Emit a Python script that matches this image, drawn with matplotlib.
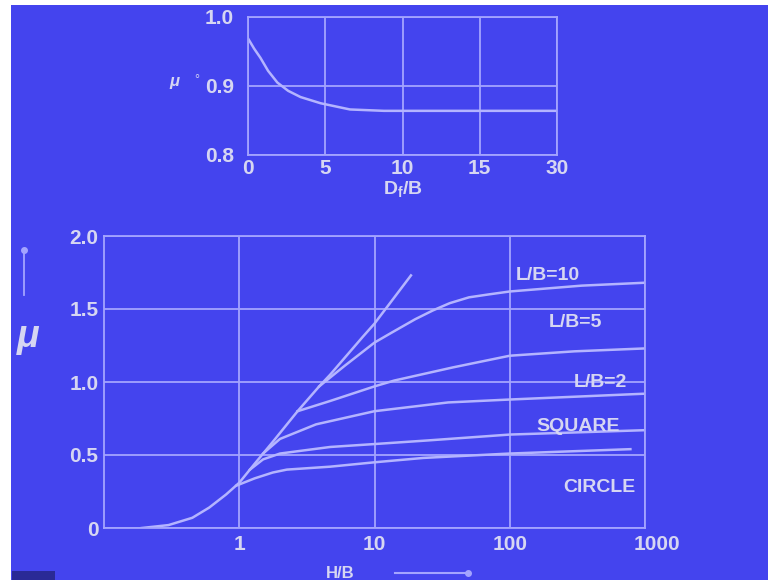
import numpy as np
import matplotlib.pyplot as plt
import matplotlib.transforms as mtransforms
from matplotlib.patches import Rectangle
from matplotlib.lines import Line2D

plt.rcParams['font.family'] = ['Liberation Sans', 'DejaVu Sans']

# ==== 颜色 ====
BG = '#4444EE'
GRID = '#A4A4FF'
CURVE = '#B4B4FF'
TXT = '#D6D6F2'

# ==== 上图数据: mu vs Df/B ====
df_b = [0, 0.4, 0.8, 1.3, 1.9, 2.6, 3.4, 4.7, 6.6, 8.8, 10, 15, 30]
mu_df = [0.969, 0.954, 0.941, 0.922, 0.905, 0.893, 0.884, 0.875, 0.866, 0.864, 0.864, 0.864, 0.864]
top_xticks = [0, 5, 10, 15, 30]
top_yticks = [0.8, 0.9, 1.0]

# ==== 下图数据: mu vs H/B ====
env_hb = [0.19, 0.3, 0.45, 0.6, 0.8, 1.0, 1.3, 1.77, 2.7, 3.9, 4.7, 8.2, 10, 18.6]
env_mu = [0.0, 0.02, 0.07, 0.14, 0.23, 0.31, 0.44, 0.59, 0.80, 0.97, 1.05, 1.31, 1.40, 1.73]

lb10_hb = [3.9, 6, 10, 13.5, 20, 27, 36, 50, 70, 100, 340, 1000]
lb10_mu = [0.97, 1.11, 1.27, 1.34, 1.43, 1.49, 1.54, 1.58, 1.60, 1.62, 1.66, 1.68]

lb5_hb = [2.7, 4.7, 10, 14, 38, 100, 300, 1000]
lb5_mu = [0.80, 0.87, 0.97, 1.01, 1.10, 1.18, 1.21, 1.23]

lb2_hb = [1.5, 2, 3.7, 10, 35, 100, 1000]
lb2_mu = [0.51, 0.61, 0.71, 0.80, 0.86, 0.88, 0.92]

sq_hb = [1.2, 1.5, 2, 4.7, 10, 25, 100, 1000]
sq_mu = [0.40, 0.47, 0.51, 0.555, 0.575, 0.60, 0.64, 0.67]

circ_hb = [0.95, 1.3, 1.77, 2.25, 4.7, 10, 23, 100, 780]
circ_mu = [0.29, 0.34, 0.38, 0.40, 0.42, 0.45, 0.48, 0.51, 0.54]

curve_labels = ['L/B=10', 'L/B=5', 'L/B=2', 'SQUARE', 'CIRCLE']
bot_xticks = [1, 10, 100, 1000]
bot_yticks = [0, 0.5, 1.0, 1.5, 2.0]

# ==== 画布 ====
fig = plt.figure(figsize=(7.68, 5.8), dpi=100, facecolor='white')
fig.add_artist(Rectangle((11 / 768, 0), 1, 1 - 5 / 580, transform=fig.transFigure,
                         facecolor=BG, edgecolor='none', zorder=-10))
fig.add_artist(Rectangle((12 / 768, 0), 43 / 768, 9 / 580, transform=fig.transFigure,
                         facecolor='#2A2A96', edgecolor='none', zorder=-5))


def style_axes(ax):
    ax.set_facecolor('none')
    for sp in ax.spines.values():
        sp.set_color(GRID)
        sp.set_linewidth(1.3)
    ax.tick_params(length=0, colors=TXT, labelsize=15)
    for lab in ax.get_xticklabels() + ax.get_yticklabels():
        lab.set_fontweight('bold')
    ax.grid(True, color=GRID, linewidth=1.3)
    ax.set_axisbelow(True)


# ==== 1. 上图 ====
def fwd(x):
    x = np.asarray(x, dtype=float)
    return np.where(x <= 15, x, 15 + (x - 15) / 3)


def inv(y):
    y = np.asarray(y, dtype=float)
    return np.where(y <= 15, y, 15 + (y - 15) * 3)


ax1 = fig.add_axes([248 / 768, 1 - 155 / 580, 309 / 768, 138 / 580])
ax1.set_xscale('function', functions=(fwd, inv))
ax1.plot(df_b, mu_df, color=CURVE, linewidth=1.8)
ax1.set_xlim(0, 30)
ax1.set_ylim(0.8, 1.0)
ax1.set_xticks(top_xticks)
ax1.set_xticklabels([str(v) for v in top_xticks])
ax1.set_yticks(top_yticks)
ax1.set_yticklabels([f'{v:.1f}' for v in top_yticks])
ax1.minorticks_off()
style_axes(ax1)
ax1.tick_params(axis='x', pad=3)
ax1.tick_params(axis='y', pad=10)
ax1.set_xlabel(r'D$_{\mathregular{f}}$/B', color=TXT, fontsize=14, fontweight='bold', labelpad=1)
fig.text(174 / 768, 1 - 82 / 580, 'μ', color=TXT, fontsize=12, fontstyle='italic',
         fontweight='bold', ha='center', va='center')
fig.text(197 / 768, 1 - 80 / 580, '°', color=TXT, fontsize=9, ha='center', va='center')

# ==== 2. 下图 ====
ax2 = fig.add_axes([104 / 768, 1 - 528 / 580, 541 / 768, 292 / 580])
ax2.set_xscale('log')
ax2.plot(env_hb, env_mu, color=CURVE, linewidth=1.8)
for xs, ys in [(lb10_hb, lb10_mu), (lb5_hb, lb5_mu), (lb2_hb, lb2_mu),
               (sq_hb, sq_mu), (circ_hb, circ_mu)]:
    ax2.plot(xs, ys, color=CURVE, linewidth=1.8)
ax2.set_xlim(0.1, 1000)
ax2.set_ylim(0, 2.0)
ax2.set_xticks(bot_xticks)
ax2.set_xticklabels([str(v) for v in bot_xticks])
ax2.set_yticks(bot_yticks)
ax2.set_yticklabels(['0', '0.5', '1.0', '1.5', '2.0'])
ax2.minorticks_off()
style_axes(ax2)
ax2.tick_params(axis='x', pad=5)
ax2.tick_params(axis='y', pad=4)

# 1000 标签略微右移
off = mtransforms.ScaledTranslation(0.12, 0, fig.dpi_scale_trans)
xl = ax2.get_xticklabels()
xl[-1].set_transform(xl[-1].get_transform() + off)

label_pos = [(0.821, 0.866), (0.871, 0.705), (0.917, 0.497), (0.876, 0.346), (0.915, 0.140)]
for txt, (lx, ly) in zip(curve_labels, label_pos):
    ax2.text(lx, ly, txt, transform=ax2.transAxes, color=TXT, fontsize=14,
             fontweight='bold', ha='center', va='center')

# 纵轴 mu 与箭头
fig.text(28 / 768, 1 - 337 / 580, 'μ', color=TXT, fontsize=27, fontweight='bold',
         fontstyle='italic', ha='center', va='center')
fig.add_artist(Line2D([24 / 768, 24 / 768], [1 - 295 / 580, 1 - 250 / 580],
                      transform=fig.transFigure, color=GRID, linewidth=1.3,
                      marker='o', markersize=4, markevery=[1]))

# 横轴 H/B 与箭头 (贴底边)
fig.text(340 / 768, 2 / 580, 'H/B', color=TXT, fontsize=12, fontweight='bold',
         ha='center', va='baseline')
fig.add_artist(Line2D([395 / 768, 468 / 768], [1 - 573 / 580, 1 - 573 / 580],
                      transform=fig.transFigure, color=GRID, linewidth=1.5,
                      marker='o', markersize=4, markevery=[1]))

fig.savefig('out.png', dpi=100, facecolor=fig.get_facecolor())
